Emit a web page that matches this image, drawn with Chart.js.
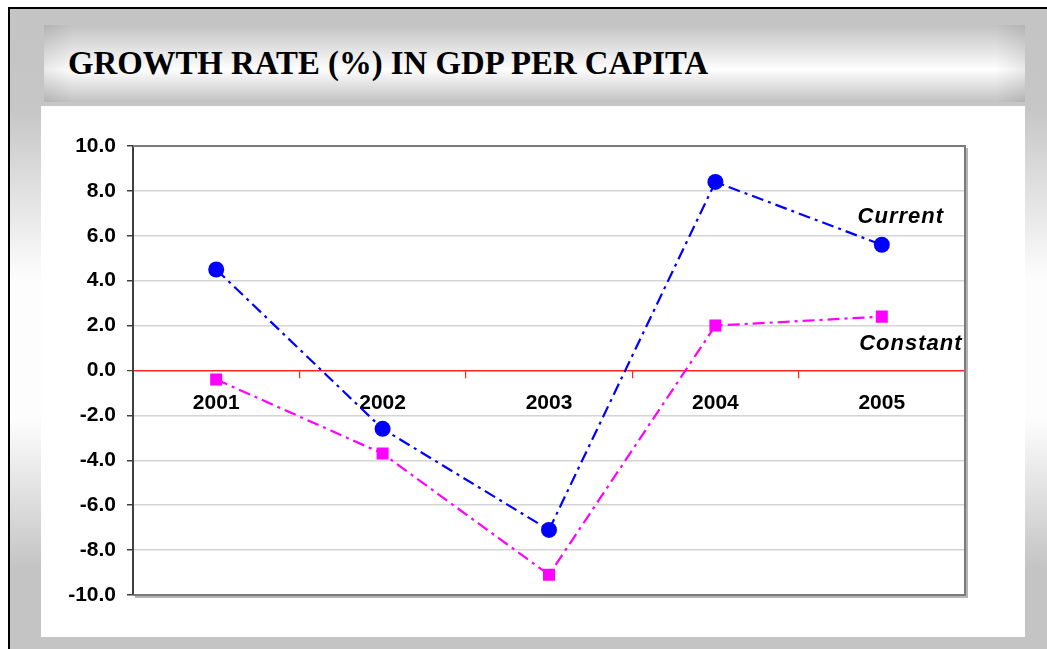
<!DOCTYPE html>
<html lang="en">
<head>
<meta charset="UTF-8">
<title>Growth Rate (%) in GDP per Capita</title>
<script src="https://cdn.jsdelivr.net/npm/chart.js"></script>
<style>
    body {
        margin: 0;
        width: 1047px;
        height: 649px;
        overflow: hidden;
        position: relative;
        background: #fff;
        font-family: "Liberation Sans", Arial, sans-serif;
    }
    .frame {
        position: absolute;
        left: 8px;
        top: 7px;
        width: 1100px;
        height: 700px;
        border-left: 2px solid #000;
        border-top: 2px solid #000;
        background: linear-gradient(to bottom, #c4c4c4 0px, #c6c6c6 100px, #fdfdfd 270px, #fdfdfd 410px, #c4c4c4 560px, #c4c4c4 700px);
    }
    .banner {
        position: absolute;
        left: 44px;
        top: 25px;
        width: 981px;
        height: 77px;
        background:
            linear-gradient(to right, rgba(0,0,0,0.08), rgba(0,0,0,0) 3%, rgba(0,0,0,0) 97%, rgba(0,0,0,0.08)),
            linear-gradient(to bottom, #c2c2c2 0%, #fefefe 58%, #c2c2c2 100%);
    }
    .title {
        position: absolute;
        left: 68px;
        top: 47px;
        margin: 0;
        font-family: "Liberation Serif", "DejaVu Serif", serif;
        font-weight: bold;
        font-size: 33px;
        line-height: 33px;
        color: #000;
        white-space: nowrap;
        transform-origin: left top;
    }
    .panel {
        position: absolute;
        left: 41px;
        top: 106px;
        width: 984px;
        height: 531px;
        background: #fff;
    }
</style>
</head>
<body>
<div class="frame"></div>
<div class="banner"></div>
<h1 class="title" id="title">GROWTH RATE (%) IN GDP PER CAPITA</h1>
<div class="panel">
    <canvas id="chart" width="984" height="531"></canvas>
</div>

<script>
// data
const years = ['2001', '2002', '2003', '2004', '2005'];
const currentRate = [4.5, -2.6, -7.1, 8.4, 5.6];
const constantRate = [-0.4, -3.7, -9.1, 2.0, 2.4];
const seriesNames = ['Current', 'Constant'];

// stretch the title to the width it has in the picture
const title = document.getElementById('title');
title.style.transform = 'scaleX(' + (640 / title.offsetWidth) + ')';

// plot frame: grey top/right/bottom edges with a small shadow
const plotFrame = {
    id: 'plotFrame',
    beforeDatasetsDraw(chart) {
        const a = chart.chartArea;
        const ctx = chart.ctx;
        ctx.save();
        ctx.lineWidth = 2;
        ctx.strokeStyle = '#b4b4b4';
        ctx.beginPath();
        ctx.moveTo(a.right + 2, a.top + 2);
        ctx.lineTo(a.right + 2, a.bottom + 2);
        ctx.lineTo(a.left + 2, a.bottom + 2);
        ctx.stroke();
        ctx.strokeStyle = '#7a7a7a';
        ctx.beginPath();
        ctx.moveTo(a.left, a.top);
        ctx.lineTo(a.right, a.top);
        ctx.lineTo(a.right, a.bottom);
        ctx.lineTo(a.left, a.bottom);
        ctx.stroke();
        ctx.restore();
    }
};

// series names written next to the last point of each line
const seriesLabels = {
    id: 'seriesLabels',
    afterDatasetsDraw(chart) {
        const ctx = chart.ctx;
        const offsets = [[19, -28], [29, 27]];
        ctx.save();
        ctx.font = 'italic bold 22px "Liberation Sans", Arial, sans-serif';
        ctx.fillStyle = '#000';
        ctx.textAlign = 'center';
        ctx.textBaseline = 'middle';
        ctx.letterSpacing = '1px';
        chart.data.datasets.forEach((ds, i) => {
            const pts = chart.getDatasetMeta(i).data;
            const p = pts[pts.length - 1];
            ctx.fillText(seriesNames[i], p.x + offsets[i][0], p.y + offsets[i][1]);
        });
        ctx.restore();
    }
};

const tickFont = { family: '"Liberation Sans", Arial, sans-serif', size: 21, weight: 'bold' };

new Chart(document.getElementById('chart'), {
    type: 'line',
    data: {
        labels: years,
        datasets: [{
            label: seriesNames[0],
            data: currentRate,
            borderColor: '#0000ff',
            borderWidth: 2.2,
            borderDash: [12, 5, 3, 5],
            pointStyle: 'circle',
            pointRadius: 8,
            pointBackgroundColor: '#0000ff',
            pointBorderWidth: 0,
            tension: 0
        }, {
            label: seriesNames[1],
            data: constantRate,
            borderColor: '#ff00ff',
            borderWidth: 2.2,
            borderDash: [12, 5, 3, 5],
            pointStyle: 'rect',
            pointRadius: 8.5,
            pointBackgroundColor: '#ff00ff',
            pointBorderWidth: 0,
            tension: 0
        }]
    },
    options: {
        responsive: false,
        animation: false,
        devicePixelRatio: 1,
        layout: { padding: { top: 40, right: 60, bottom: 42, left: 0 } },
        plugins: {
            legend: { display: false },
            tooltip: { enabled: false }
        },
        scales: {
            x: {
                type: 'category',
                offset: true,
                position: { y: 0 },
                border: { color: '#ff2020', width: 1.2 },
                grid: {
                    offset: true,
                    drawOnChartArea: false,
                    drawTicks: true,
                    tickLength: 7,
                    color: c => (c.index > 0 ? '#ff2020' : 'rgba(0,0,0,0)'),
                    lineWidth: 1.2
                },
                ticks: { font: tickFont, color: '#000', padding: 13, maxRotation: 0 }
            },
            y: {
                min: -10,
                max: 10,
                afterFit(scale) { scale.width = 92; },
                border: { color: '#404040', width: 2 },
                grid: {
                    color: c => (c.tick.value === 0 ? '#ff2020' : (c.tick.value === 10 ? '#7a7a7a' : '#d4d4d4')),
                    lineWidth: c => (c.tick.value === 0 ? 1.2 : 1.5),
                    tickColor: '#404040',
                    tickLength: 6
                },
                ticks: {
                    stepSize: 2,
                    font: tickFont,
                    color: '#000',
                    padding: 11,
                    callback: v => v.toFixed(1)
                }
            }
        }
    },
    plugins: [plotFrame, seriesLabels]
});
</script>
</body>
</html>
